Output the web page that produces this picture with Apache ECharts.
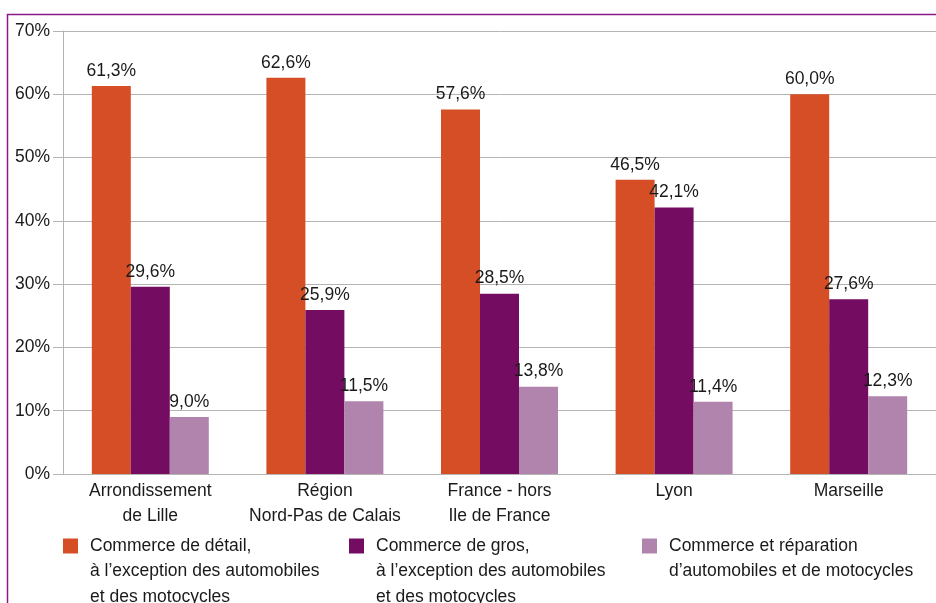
<!DOCTYPE html>
<html>
<head>
<meta charset="utf-8">
<script src="https://cdn.jsdelivr.net/npm/echarts@6/dist/echarts.min.js"></script>
<style>html,body{margin:0;padding:0;background:#fff;}#c{width:936px;height:603px;}</style>
</head>
<body>
<div id="c"></div>
<script>
var categories = ['Arrondissement\nde Lille', 'Région\nNord-Pas de Calais', 'France - hors\nIle de France', 'Lyon', 'Marseille'];
var seriesNames = [
  'Commerce de détail,\nà l\u2019exception des automobiles\net des motocycles',
  'Commerce de gros,\nà l\u2019exception des automobiles\net des motocycles',
  'Commerce et réparation\nd\u2019automobiles et de motocycles'
];
var detail = [61.3, 62.6, 57.6, 46.5, 60.0];
var gros = [29.6, 25.9, 28.5, 42.1, 27.6];
var reparation = [9.0, 11.5, 13.8, 11.4, 12.3];
var yTicks = [0, 10, 20, 30, 40, 50, 60, 70];

var colors = ['#d54e25', '#740c62', '#b084ad'];
var values = [detail, gros, reparation];
var font = '"Liberation Sans", Arial, sans-serif';
var fs = 17.5;
var textColor = '#1a1a1a';
var gray = '#b4b4b4';

function fmt(v) { return v.toFixed(1).replace('.', ',') + '%'; }
function padLegend(name) {
  var n = name.split('\n').length;
  return new Array(n).join('\n') + name;
}

var legendLefts = [63, 349, 642];
var legends = seriesNames.map(function (nm, i) {
  var n = nm.split('\n').length;
  var blockH = (2 * n - 1) * 25.5;
  return {
    data: [nm],
    left: legendLefts[i],
    top: 546 - blockH / 2,
    padding: 0,
    orient: 'horizontal',
    itemWidth: 15,
    itemHeight: 15,
    icon: 'rect',
    selectedMode: false,
    formatter: function (name) { return padLegend(name); },
    textStyle: { fontFamily: font, fontSize: fs, color: textColor, lineHeight: 25.5, padding: [0, 0, 0, 7] }
  };
});

var chart = echarts.init(document.getElementById('c'));
chart.setOption({
  backgroundColor: '#fff',
  animation: false,
  graphic: [{
    type: 'rect',
    shape: { x: 7.5, y: 14.5, width: 1000, height: 1000 },
    style: { fill: 'none', stroke: '#8b1a86', lineWidth: 1.5 },
    z: 100
  }],
  grid: { left: 63, top: 31, width: 875, height: 443, containLabel: false },
  legend: legends,
  xAxis: {
    type: 'category',
    data: categories,
    axisLine: { lineStyle: { color: gray, width: 1 } },
    axisTick: { length: 13, lineStyle: { color: gray } },
    axisLabel: { fontFamily: font, fontSize: fs, color: textColor, lineHeight: 25, margin: 5, interval: 0 }
  },
  yAxis: {
    type: 'value',
    min: yTicks[0],
    max: yTicks[yTicks.length - 1],
    interval: 10,
    axisLine: { show: true, lineStyle: { color: gray, width: 1 } },
    axisTick: { show: true, length: 10, lineStyle: { color: gray } },
    splitLine: { lineStyle: { color: gray, width: 1 } },
    axisLabel: { fontFamily: font, fontSize: fs, color: textColor, margin: 13, formatter: '{value}%' }
  },
  series: seriesNames.map(function (nm, i) {
    return {
      name: nm,
      type: 'bar',
      data: values[i],
      barGap: '0%',
      barCategoryGap: '33%',
      itemStyle: { color: colors[i] },
      label: {
        show: true,
        position: 'top',
        distance: 6,
        fontFamily: font,
        fontSize: fs,
        color: textColor,
        formatter: function (p) { return fmt(p.value); }
      }
    };
  })
});
</script>
</body>
</html>
